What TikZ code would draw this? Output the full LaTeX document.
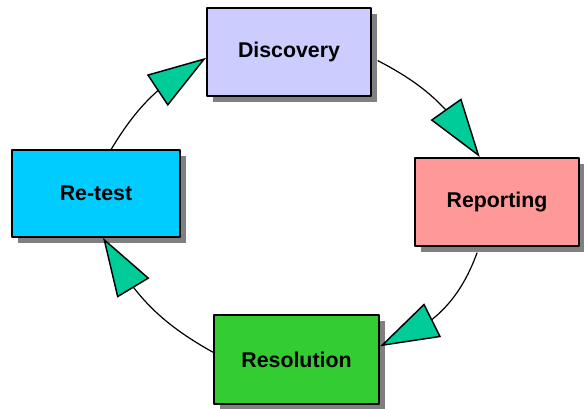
\documentclass[tikz,border=0pt]{standalone}
\usepackage{fontspec}
\setmainfont{Liberation Sans}
\usetikzlibrary{arrows.meta,bending,shadows}
\definecolor{discfill}{HTML}{CCCCFF}
\definecolor{repfill}{HTML}{FF9999}
\definecolor{resfill}{HTML}{33CC33}
\definecolor{retfill}{HTML}{00CCFF}
\definecolor{tipfill}{HTML}{00CC99}
\definecolor{shade}{HTML}{808080}
\begin{document}
\begin{tikzpicture}[x=0.75pt,y=-0.75pt,line join=round,line cap=round,
	font=\fontsize{16}{18}\selectfont\bfseries,
	box/.style={draw,line width=1.4pt,minimum width=123pt,minimum height=66pt,
		drop shadow={shadow xshift=4.5pt,shadow yshift=-4.5pt,fill=shade,opacity=1}},
	cyc/.style={line width=0.9pt,-{Triangle[length=44pt,width=28pt,fill=tipfill,line width=1.1pt]}}]
	\useasboundingbox (0,0) rectangle (584,409);
	\node[box,fill=discfill] (disc) at (289,52) {Discovery};
	\node[box,fill=repfill] (rep) at (497,202) {Reporting};
	\node[box,fill=resfill,minimum width=124pt,minimum height=67pt] (res) at (296.5,359.5) {Resolution};
	\node[box,fill=retfill,minimum width=126pt,minimum height=65pt] (ret) at (96,193.5) {Re-test};
	% the cycle
	\draw[cyc] ([xshift=4.5pt]disc.-6) to[bend left=16] (rep.111);
	\draw[cyc] ([yshift=-4.5pt]rep.-114) to[bend left=26] (res.9);
	\draw[cyc] (res.175) to[bend left=17] (ret.-81);
	\draw[cyc] (ret.71) to[bend left=15] (disc.184);
\end{tikzpicture}
\end{document}
